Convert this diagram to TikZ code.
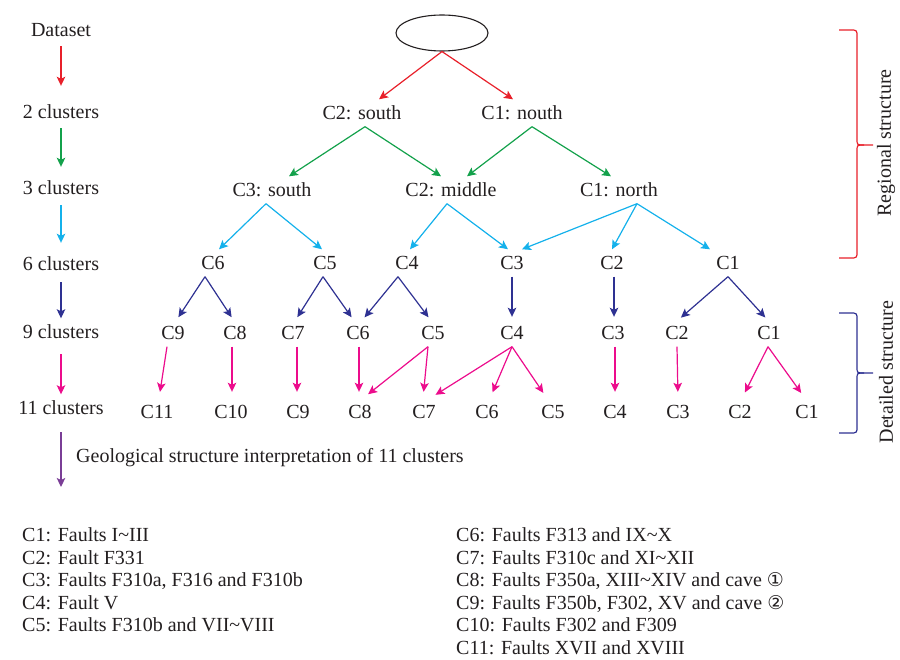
\documentclass[tikz,border=0pt]{standalone}
\usepackage{fontspec}
\setmainfont{Liberation Serif}
\newfontfamily\symfont{DejaVu Sans}
\usetikzlibrary{arrows.meta,shapes.geometric}
\definecolor{cred}{HTML}{E8202A}
\definecolor{cgreen}{HTML}{13A14B}
\definecolor{ccyan}{HTML}{14B1EB}
\definecolor{cdblue}{HTML}{2E3192}
\definecolor{cpink}{HTML}{EC0C8C}
\definecolor{cpurple}{HTML}{7A3E96}
\definecolor{ctext}{HTML}{231F20}
\begin{document}
\begin{tikzpicture}[x=1pt,y=-1pt,
 lbl/.style={font=\fontsize{20}{24}\selectfont, text=ctext, text height=13pt, text depth=0pt, inner sep=7pt},
 desc/.style={font=\fontsize{20}{24}\selectfont, text=ctext, anchor=base west, inner sep=0pt},
 arr/.style={line width=1.2pt, -{Stealth[length=9pt,width=8.5pt,inset=2pt]}},
 ra/.style={arr, cred},
 ga/.style={arr, cgreen},
 ca/.style={arr, ccyan},
 ba/.style={arr, cdblue, shorten >=2.5pt},
 pa/.style={arr, cpink, shorten >=6.5pt},
 brace/.style={line width=1.2pt, line join=round},
 circ/.style={}
]
\useasboundingbox (0,0) rectangle (900,660);

% left column
\node[lbl] (ds) at (61,30) {Dataset};
\node[lbl] (k2) at (61,112) {2 clusters};
\node[lbl] (k3) at (61,188) {3 clusters};
\node[lbl] (k6) at (61,264) {6 clusters};
\node[lbl] (k9) at (61,332) {9 clusters};
\node[lbl] (k11) at (61,408) {11 clusters};
\coordinate (kend) at (61,487);
\draw[ra, shorten <=2.5pt, shorten >=12.5pt] (ds.south) -- (k2.north);
\draw[ga, shorten <=2.5pt, shorten >=7.5pt] (k2.south) -- (k3.north);
\draw[ca, shorten <=3.5pt, shorten >=7.5pt] (k3.south) -- (k6.north);
\draw[arr, cdblue, shorten <=4.5pt] (k6.south) -- (k9.north);
\draw[arr, cpink, shorten <=8.5pt] (k9.south) -- (k11.north);
\draw[arr, cpurple, shorten <=10.5pt] (k11.south) -- (kend);
\node[desc] (geo) at (76,462) {Geological structure interpretation of 11 clusters};

% tree
\node[draw=ctext, ellipse, line width=1.1pt, minimum width=92pt, minimum height=36pt, inner sep=0pt] (root) at (442,33) {};
\node[lbl] (a1) at (362,113) {C2: south};
\node[lbl] (a2) at (522,113) {C1: nouth};
\node[lbl] (b1) at (272,190) {C3: south};
\node[lbl] (b2) at (451,190) {C2: middle};
\node[lbl] (b3) at (619,190) {C1: north};
\node[lbl] (c6) at (213,263) {C6};
\node[lbl] (c5) at (325,263) {C5};
\node[lbl] (c4) at (407,263) {C4};
\node[lbl] (c3) at (512,263) {C3};
\node[lbl] (c2) at (612,263) {C2};
\node[lbl] (c1) at (728,263) {C1};
\node[lbl] (d9) at (173,333) {C9};
\node[lbl] (d8) at (235,333) {C8};
\node[lbl] (d7) at (293,333) {C7};
\node[lbl] (d6) at (358,333) {C6};
\node[lbl] (d5) at (433,333) {C5};
\node[lbl] (d4) at (512,333) {C4};
\node[lbl] (d3) at (613,333) {C3};
\node[lbl] (d2) at (677,333) {C2};
\node[lbl] (d1) at (769,333) {C1};
\node[lbl] (e11) at (157,412) {C11};
\node[lbl] (e10) at (231,412) {C10};
\node[lbl] (e9) at (298,412) {C9};
\node[lbl] (e8) at (360,412) {C8};
\node[lbl] (e7) at (424,412) {C7};
\node[lbl] (e6) at (487,412) {C6};
\node[lbl] (e5) at (553,412) {C5};
\node[lbl] (e4) at (615,412) {C4};
\node[lbl] (e3) at (678,412) {C3};
\node[lbl] (e2) at (740,412) {C2};
\node[lbl] (e1) at (807,412) {C1};

% red
\draw[ra] (root.south) -- ([xshift=17pt]a1.north);
\draw[ra] (root.south) -- ([xshift=-9pt]a2.north);
% green
\draw[ga] ([xshift=3pt]a1.south) -- ([xshift=17pt]b1.north);
\draw[ga] ([xshift=3pt]a1.south) -- ([xshift=-10pt]b2.north);
\draw[ga] ([xshift=10pt]a2.south) -- ([xshift=16pt]b2.north);
\draw[ga] ([xshift=10pt]a2.south) -- ([xshift=-8pt]b3.north);
% cyan
\draw[ca] ([xshift=-6pt]b1.south) -- ([xshift=6pt]c6.north);
\draw[ca] ([xshift=-6pt]b1.south) -- ([xshift=-3pt]c5.north);
\draw[ca] ([xshift=-4pt]b2.south) -- ([xshift=3pt]c4.north);
\draw[ca] ([xshift=-4pt]b2.south) -- ([xshift=-4pt]c3.north);
\draw[ca] ([xshift=18pt]b3.south) -- ([xshift=10pt]c3.north);
\draw[ca] ([xshift=18pt]b3.south) -- (c2.north);
\draw[ca] ([xshift=18pt]b3.south) -- ([xshift=-18pt]c1.north);
% dark blue
\draw[ba] ([xshift=-8pt]c6.south) -- ([xshift=4pt]d9.north);
\draw[ba] ([xshift=-8pt]c6.south) -- ([xshift=-2pt]d8.north);
\draw[ba] ([xshift=-2pt]c5.south) -- ([xshift=3pt]d7.north);
\draw[ba] ([xshift=-2pt]c5.south) -- ([xshift=-5pt]d6.north);
\draw[ba] ([xshift=-9pt]c4.south) -- ([xshift=5pt]d6.north);
\draw[ba] ([xshift=-9pt]c4.south) -- ([xshift=-3pt]d5.north);
\draw[ba] (c3.south) -- (d4.north);
\draw[ba] ([xshift=2pt]c2.south) -- ([xshift=1pt]d3.north);
\draw[ba] (c1.south) -- ([xshift=2pt]d2.north);
\draw[ba] (c1.south) -- ([xshift=-2pt]d1.north);
% pink
\draw[pa] ([xshift=-6pt]d9.south) -- ([xshift=2pt]e11.north);
\draw[pa] ([xshift=-3pt]d8.south) -- ([xshift=1pt]e10.north);
\draw[pa] ([xshift=4pt]d7.south) -- ([xshift=-1pt]e9.north);
\draw[pa] ([xshift=1pt]d6.south) -- ([xshift=-1pt]e8.north);
\draw[pa] ([xshift=-5pt]d5.south) -- ([xshift=3pt]e8.north);
\draw[pa] ([xshift=-5pt]d5.south) -- ([xshift=-1pt]e7.north);
\draw[pa] (d4.south) -- ([xshift=6pt]e7.north);
\draw[pa] (d4.south) -- ([xshift=3pt]e6.north);
\draw[pa] (d4.south) -- ([xshift=-6pt]e5.north);
\draw[pa] ([xshift=2pt]d3.south) -- (e4.north);
\draw[pa] (d2.south) -- (e3.north);
\draw[pa] ([xshift=-1pt]d1.south) -- ([xshift=2pt]e2.north);
\draw[pa] ([xshift=-1pt]d1.south) -- ([xshift=-2pt]e1.north);

% braces
\draw[brace, cred] (839,30) -- (850,30) .. controls (857,30) .. (857,37) -- (857,139) .. controls (857,145) .. (864,145) -- (873,145);
\draw[brace, cred] (839,258) -- (850,258) .. controls (857,258) .. (857,251) -- (857,151) .. controls (857,145) .. (864,145);
\draw[brace, cdblue] (839,313) -- (850,313) .. controls (857,313) .. (857,320) -- (857,367) .. controls (857,373) .. (864,373) -- (873,373);
\draw[brace, cdblue] (839,433) -- (850,433) .. controls (857,433) .. (857,426) -- (857,379) .. controls (857,373) .. (864,373);
\node[rotate=90, font=\fontsize{20}{24}\selectfont, text=ctext, inner sep=0pt] (reg) at (886,143) {Regional structure};
\node[rotate=90, font=\fontsize{20}{24}\selectfont, text=ctext, inner sep=0pt] (det) at (886,372) {Detailed structure};

% legend text
\node[desc] (l1) at (22,541.5) {C1: Faults I\textasciitilde III};
\node[desc] (l2) at (22,564) {C2: Fault F331};
\node[desc] (l3) at (22,586.5) {C3: Faults F310a, F316 and F310b};
\node[desc] (l4) at (22,609) {C4: Fault V};
\node[desc] (l5) at (22,631.5) {C5: Faults F310b and VII\textasciitilde VIII};
\node[desc] (l6) at (456,541.5) {C6: Faults F313 and IX\textasciitilde X};
\node[desc] (l7) at (456,564) {C7: Faults F310c and XI\textasciitilde XII};
\node[desc] (l8) at (456,586.5) {C8: Faults F350a, XIII\textasciitilde XIV and cave {\symfont\fontsize{19}{19}\selectfont ①}};
\node[desc] (l9) at (456,609) {C9: Faults F350b, F302, XV and cave {\symfont\fontsize{19}{19}\selectfont ②}};
\node[desc] (l10) at (456,631.5) {C10: Faults F302 and F309};
\node[desc] (l11) at (456,654) {C11: Faults XVII and XVIII};
\end{tikzpicture}
\end{document}
